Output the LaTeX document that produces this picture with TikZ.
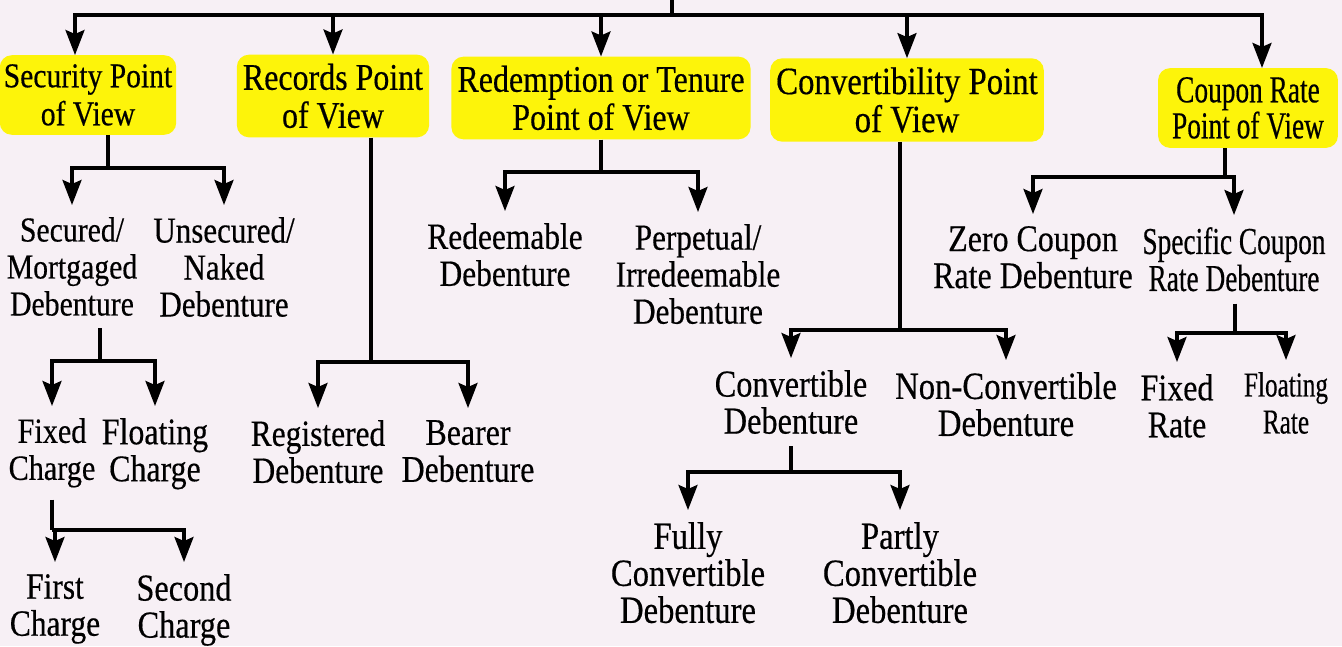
\documentclass[tikz,border=0pt]{standalone}
\usepackage{fontspec}
\setmainfont{Liberation Serif}[FakeStretch=0.85,FakeBold=0.4]
\newfontfamily\cond{Liberation Serif}[FakeStretch=0.72,FakeBold=0.4]
\usetikzlibrary{arrows.meta}
\definecolor{paper}{RGB}{247,240,245}
\definecolor{hl}{RGB}{253,244,10}
\newcommand{\fs}[1]{\fontsize{#1}{37}\selectfont}
\tikzset{
  conn/.style={line width=3.2pt, draw=black},
  arr/.style={conn, -{Stealth[length=25pt,width=19pt,inset=4pt]}},
  child/.style={font=\fs{37.5}, align=center, inner xsep=2pt, anchor=north, inner ysep=12pt},
  head/.style={font=\fontsize{37.6}{38}\selectfont, align=center, fill=hl, rounded corners=12pt, inner xsep=6pt, inner ysep=9pt},
}
\begin{document}
\begin{tikzpicture}[x=1pt,y=-1pt]
\useasboundingbox (0,0) rectangle (1342,646);
\fill[paper] (0,0) rectangle (1342,646);

% headers
\node[head, font=\fontsize{34.8}{38}\selectfont, inner xsep=4pt] (h1) at (88,95) {Security Point\\of View};
\node[head] (h2) at (333,96) {Records Point\\of View};
\node[head] (h3) at (601,98) {Redemption or Tenure\\Point of View};
\node[head, font=\fontsize{38.6}{38}\selectfont] (h4) at (907,100) {Convertibility Point\\of View};
\node[head, font=\cond\fontsize{38}{36}\selectfont, inner xsep=14pt] (h5) at (1248,108) {Coupon Rate\\Point of View};

% top connector
\coordinate (root) at (672,0);
\coordinate (jtop) at (672,15);
\draw[conn] (root) -- (jtop);
\draw[arr] (jtop) -| ([xshift=-13pt]h1.north);
\draw[arr] (jtop) -| (h2.north);
\draw[arr] (jtop) -| (h3.north);
\draw[arr] (jtop) -| (h4.north);
\draw[arr] (jtop) -| ([xshift=14pt]h5.north);

% security subtree
\node[child, font=\fs{35}] (sec1) at (72,205) {Secured/\\Mortgaged\\Debenture};
\node[child, font=\fs{36.5}] (sec2) at (224,205) {Unsecured/\\Naked\\Debenture};
\coordinate (jsec) at (108,168);
\draw[conn] (h1.south -| jsec) -- (jsec);
\draw[arr] (jsec) -| (sec1.north);
\draw[arr] (jsec) -| (sec2.north);

\node[child, font=\fs{35.5}] (fix) at (52,406) {Fixed\\Charge};
\node[child] (flo) at (155,406) {Floating\\Charge};
\coordinate (jsd) at (100,361);
\draw[conn] (sec1.south -| jsd) -- (jsd);
\draw[arr] (jsd) -| (fix.north);
\draw[arr] (jsd) -| (flo.north);

\node[child, font=\fs{37}] (first) at (55,562) {First\\Charge};
\node[child, font=\fs{38}] (second) at (184,562) {Second\\Charge};
\coordinate (jfc) at (52,530);
\draw[conn] (fix.south -| jfc) -- (jfc);
\draw[arr] (jfc) -| (first.north);
\draw[arr] (jfc) -| (second.north);

% records subtree
\node[child, font=\fs{37}] (reg) at (318,408) {Registered\\Debenture};
\node[child] (bea) at (468,408) {Bearer\\Debenture};
\coordinate (jrec) at (371,362);
\draw[conn] (h2.south -| jrec) -- (jrec);
\draw[arr] (jrec) -| (reg.north);
\draw[arr] (jrec) -| (bea.north);

% redemption subtree
\node[child, font=\fs{37}] (red) at (505,211) {Redeemable\\Debenture};
\node[child, font=\fs{36.7}] (per) at (698,212) {Perpetual/\\Irredeemable\\Debenture};
\coordinate (jred) at (601,172);
\draw[conn] (h3.south -| jred) -- (jred);
\draw[arr] (jred) -| (red.north);
\draw[arr] (jred) -| (per.north);

% convertibility subtree
\node[child, font=\fs{38}] (conv) at (791,358) {Convertible\\Debenture};
\node[child, font=\fs{38.5}] (nconv) at (1006,360) {Non-Convertible\\Debenture};
\coordinate (jconv) at (900,330);
\draw[conn] (h4.south -| jconv) -- (jconv);
\draw[arr] (jconv) -| (conv.north);
\draw[arr] (jconv) -| (nconv.north);

\node[child, font=\fs{38.4}] (fully) at (688,510) {Fully\\Convertible\\Debenture};
\node[child, font=\fs{38.4}] (partly) at (900,510) {Partly\\Convertible\\Debenture};
\coordinate (jcd) at (791,472);
\draw[conn] (conv.south -| jcd) -- (jcd);
\draw[arr] (jcd) -| (fully.north);
\draw[arr] (jcd) -| (partly.north);

% coupon subtree
\node[child, font=\fs{37.6}] (zero) at (1033,214) {Zero Coupon\\Rate Debenture};
\node[child, font=\cond\fs{38}] (spec) at (1234,215) {Specific Coupon\\Rate Debenture};
\coordinate (jcou) at (1225,177);
\draw[conn] (h5.south -| jcou) -- (jcou);
\draw[arr] (jcou) -| (zero.north);
\draw[arr] (jcou) -| (spec.north);

\node[child, font=\fs{37.6}] (frate) at (1177,362) {Fixed\\Rate};
\node[child, font=\cond\fs{35}] (flrate) at (1286,360) {Floating\\Rate};
\coordinate (jspec) at (1235,333);
\draw[conn] (spec.south -| jspec) -- (jspec);
\draw[arr] (jspec) -| (frate.north);
\draw[arr] (jspec) -| (flrate.north);
\end{tikzpicture}
\end{document}
